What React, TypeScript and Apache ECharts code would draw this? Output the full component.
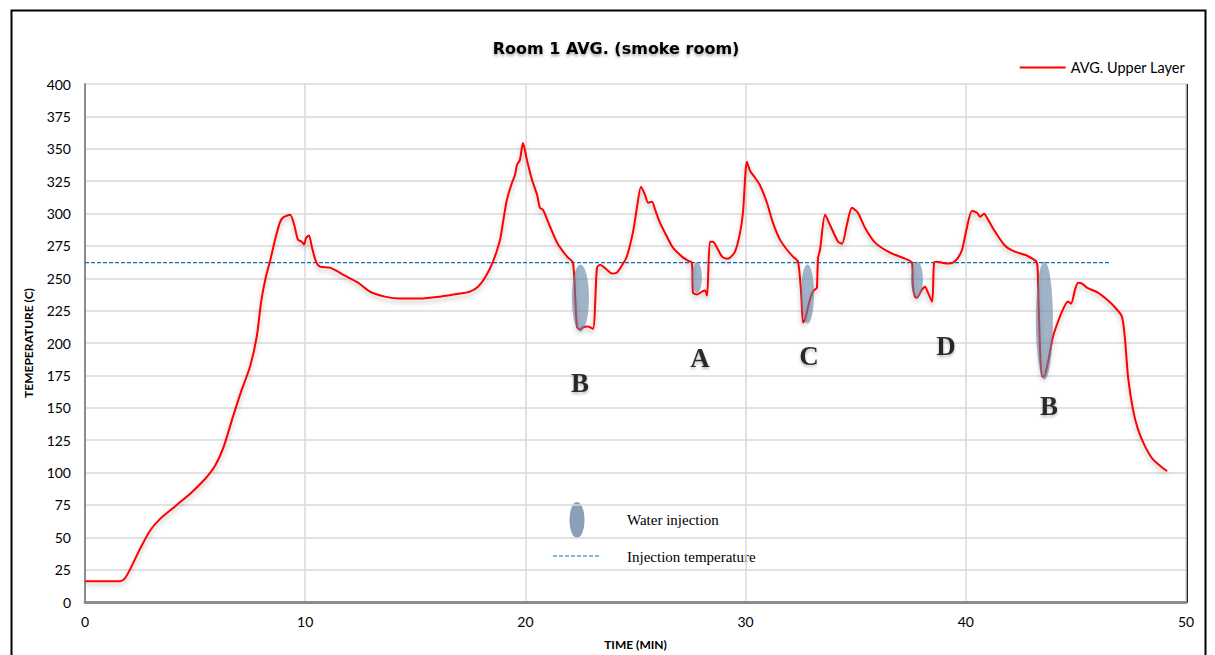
import React, { useEffect, useRef } from "react";
import * as echarts from "echarts";

// Time (min) and average upper-layer temperature (C)
const timeMin = [
  0, 1.6, 1.8, 2.04, 2.5, 2.95, 3.4, 4.1, 4.8, 5.45, 5.9, 6.3, 6.7, 7.1, 7.5, 7.8, 8.0, 8.2, 8.4, 8.65,
  8.85, 9.0, 9.31, 9.5, 9.67, 9.85, 9.95, 10.04, 10.17, 10.31, 10.49, 10.67, 11.13, 11.81, 12.4, 12.94, 13.62, 14.3,
  15.21, 16.12, 17.03, 17.48, 17.85, 18.17, 18.53, 18.85, 18.98, 19.16, 19.39, 19.53, 19.62, 19.75, 19.89, 20.07,
  20.3, 20.53, 20.66, 20.8, 21.12, 21.44, 21.89, 22.16, 22.34, 22.48, 22.6, 22.84, 23.07, 23.25, 23.39, 23.7, 23.93,
  24.16, 24.39, 24.61, 24.89, 25.07, 25.25, 25.43, 25.57, 25.75, 25.89, 26.11, 26.43, 26.7, 27.11, 27.38, 27.56,
  27.61, 27.79, 28.02, 28.16, 28.25, 28.38, 28.52, 28.7, 28.93, 29.16, 29.29, 29.52, 29.75, 29.88, 30.06, 30.2,
  30.43, 30.65, 30.97, 31.24, 31.56, 31.88, 32.15, 32.38, 32.52, 32.61, 32.7, 32.92, 33.06, 33.2, 33.24, 33.29,
  33.38, 33.61, 33.83, 34.2, 34.38, 34.6, 34.83, 35.1, 35.42, 35.88, 36.56, 37.24, 37.56, 37.6, 37.69, 37.78, 38.01,
  38.15, 38.28, 38.47, 38.56, 38.69, 38.92, 39.19, 39.42, 39.65, 39.83, 40.05, 40.28, 40.51, 40.65, 40.83, 41.01,
  41.33, 41.78, 42.23, 42.78, 43.23, 43.28, 43.37, 43.46, 43.55, 43.73, 43.96, 44.19, 44.41, 44.64, 44.78, 44.96,
  45.1, 45.28, 45.5, 46.0, 46.41, 46.78, 47.09, 47.23, 47.37, 47.59, 47.82, 48.14, 48.5, 49.14,
];
const tempC = [
  16, 16, 18, 25, 41, 55, 64, 74, 84, 95, 105, 120, 142, 163, 182, 205, 232, 250, 263, 281,
  293, 297, 299, 291.3, 279.8, 278.2, 276, 281.3, 283, 273.6, 262.8, 259, 258.2, 252, 246.6, 239.7, 235.8, 234.3,
  234.3, 235.8, 238.2, 239.7, 243.5, 250.5, 262.8, 279.8, 292.9, 310.6, 323.7, 329.9, 337.6, 341.4, 354.5, 341.4,
  326, 314.5, 304.4, 302.9, 289.8, 277.5, 266.7, 262, 212.7, 210.4, 212, 212.7, 211, 258, 260.5, 256.6, 253.6,
  254.5, 260, 267, 286, 305, 320.6, 314.5, 308.3, 309, 303, 292.9, 282, 273.6, 266.7, 263.6, 262,
  239, 237.4, 239.7, 240.5, 236.6, 278.2, 278.2, 273.6, 266.7, 265.1, 265.9, 270.5, 285.2, 300.6, 340, 333,
  327.6, 322, 308.3, 292.9, 279.8, 272, 266.7, 262.8, 238.9, 215.8, 218.1, 233.5, 239.7, 242, 242.8, 265.9,
  272, 299, 291.3, 278.2, 276.7, 291.3, 304.4, 300.6, 289, 277.5, 269.7, 265.1, 262, 243.5, 235.8, 235, 241.2,
  243.5, 238.9, 232, 262, 262.8, 262, 261.3, 262, 265.9, 272, 289, 302, 300.6, 297.5, 299.8, 295.2,
  286, 275.1, 270.5, 267.4, 262, 246.6, 195, 174.2, 174.2, 185, 205, 216.6, 225.8, 232, 230.4, 241.2,
  246.6, 245.9, 242.8, 238.9, 233.5, 227.4, 220.4, 202.7, 173.4, 148.7, 133.3, 120.2, 110.2, 101,
];

// Injection temperature reference line
const injectionTemp = 262;
const injectionLineTimes = [0, 46.6];

// Water injection markers (centre time, centre temperature)
const injectionTimes = [22.5, 27.79, 32.81, 37.78, 43.57];
const injectionTemps = [234.7, 250.5, 237.8, 249, 217.3];
const injectionSizesPx = [
  [17, 67],
  [10, 31],
  [13, 59],
  [12, 36],
  [17, 118],
];

// Event letters
const letterLabels = ["B", "A", "C", "D", "B"];
const letterTimes = [22.48, 27.93, 32.88, 39.1, 43.78];
const letterTemps = [168.8, 188.8, 189.6, 197.3, 151];

const ELLIPSE =
  "path://M50,0 C77.6,0 100,22.4 100,50 C100,77.6 77.6,100 50,100 C22.4,100 0,77.6 0,50 C0,22.4 22.4,0 50,0 Z";
const ELLIPSE_COLOR = "rgba(99,128,160,0.75)";
const SANS = "Lato, 'Open Sans', sans-serif";
const SERIF = "'Liberation Serif', 'DejaVu Serif', serif";

export default function App() {
  const ref = useRef<HTMLDivElement>(null);

  useEffect(() => {
    if (!ref.current) return;
    const chart = echarts.init(ref.current, undefined, { renderer: "svg" });

    const lineData = timeMin.map((t, i) => [t, tempC[i]]);
    const injLine = injectionLineTimes.map((t) => [t, injectionTemp]);
    const ellipses = injectionTimes.map((t, i) => ({
      value: [t, injectionTemps[i]],
      symbolSize: injectionSizesPx[i],
    }));
    const letters = letterTimes.map((t, i) => ({
      value: [t, letterTemps[i]],
      label: { formatter: letterLabels[i] },
    }));

    chart.setOption({
      animation: false,
      backgroundColor: "#ffffff",
      title: {
        text: "Room 1 AVG. (smoke room)",
        left: 611,
        textAlign: "center",
        top: 35,
        textStyle: {
          fontFamily: "'DejaVu Sans', sans-serif",
          fontSize: 16,
          fontWeight: "bold",
          color: "#000",
          textShadowColor: "rgba(0,0,0,0.35)",
          textShadowBlur: 3,
          textShadowOffsetY: 2,
        },
      },
      legend: {
        data: ["AVG. Upper Layer"],
        right: 25,
        top: 55,
        icon: "rect",
        itemWidth: 46,
        itemHeight: 2,
        itemGap: 8,
        textStyle: { fontFamily: SANS, fontSize: 14.5, color: "#000" },
      },
      grid: { left: 85, right: 29, top: 84, bottom: 52, containLabel: false },
      xAxis: {
        type: "value",
        min: 0,
        max: 50,
        interval: 10,
        name: "TIME (MIN)",
        nameLocation: "middle",
        nameGap: 36,
        nameTextStyle: { fontFamily: SANS, fontSize: 12, fontWeight: "bold", color: "#000" },
        axisLine: { show: true, onZero: false, lineStyle: { color: "#8c8c8c", width: 3 } },
        axisTick: { show: false },
        axisLabel: { fontFamily: SANS, fontSize: 14, color: "#000", margin: 12 },
        splitLine: { show: true, lineStyle: { color: "#d9d9d9", width: 1.5 } },
      },
      yAxis: {
        type: "value",
        min: 0,
        max: 400,
        interval: 25,
        name: "TEMEPERATURE (C)",
        nameLocation: "middle",
        nameGap: 51,
        nameTextStyle: { fontFamily: SANS, fontSize: 12, fontWeight: "bold", color: "#000" },
        axisLine: { show: true, lineStyle: { color: "#8c8c8c", width: 2 } },
        axisTick: { show: false },
        axisLabel: { fontFamily: SANS, fontSize: 14, color: "#000", margin: 14 },
        splitLine: { show: true, lineStyle: { color: "#d9d9d9", width: 1.5 } },
      },
      series: [
        {
          name: "Injection temperature",
          type: "line",
          data: injLine,
          symbol: "none",
          lineStyle: { color: "#0070c0", width: 1.2, type: [4, 2] },
          z: 2,
        },
        {
          name: "AVG. Upper Layer",
          type: "line",
          data: lineData,
          symbol: "none",
          smooth: 0.25,
          color: "#ff0000",
          lineStyle: {
            color: "#ff0000",
            width: 2,
            shadowColor: "rgba(0,0,0,0.28)",
            shadowBlur: 5,
            shadowOffsetY: 3,
          },
          z: 3,
        },
        {
          name: "Water injection",
          type: "scatter",
          data: ellipses,
          symbol: ELLIPSE,
          itemStyle: { color: ELLIPSE_COLOR },
          z: 4,
        },
        {
          name: "Events",
          type: "scatter",
          data: letters,
          symbolSize: 0,
          label: {
            show: true,
            position: "inside",
            fontFamily: SERIF,
            fontSize: 27,
            fontWeight: "bold",
            color: "#000",
            textShadowColor: "rgba(0,0,0,0.35)",
            textShadowBlur: 3,
            textShadowOffsetY: 2,
          },
          z: 5,
        },
      ],
      graphic: [
        {
          type: "rect",
          left: 9,
          top: 8,
          shape: { width: 1194, height: 700 },
          style: { fill: "none", stroke: "#000", lineWidth: 2 },
          silent: true,
        },
        {
          type: "line",
          shape: { x1: 1187, y1: 84, x2: 1187, y2: 603 },
          style: { stroke: "#222", lineWidth: 2 },
          silent: true,
        },
        {
          type: "ellipse",
          shape: { cx: 577, cy: 520, rx: 7.5, ry: 18 },
          style: { fill: ELLIPSE_COLOR },
        },
        {
          type: "text",
          x: 627,
          y: 520,
          style: { text: "Water injection", font: "15px " + SERIF, fill: "#000", verticalAlign: "middle" },
        },
        {
          type: "line",
          shape: { x1: 553, y1: 556, x2: 601, y2: 556 },
          style: { stroke: "#0070c0", lineWidth: 1.2, lineDash: [4, 2] },
        },
        {
          type: "text",
          x: 627,
          y: 557,
          style: { text: "Injection temperature", font: "15px " + SERIF, fill: "#000", verticalAlign: "middle" },
        },
      ],
    });

    return () => chart.dispose();
  }, []);

  return (
    <div
      ref={ref}
      style={{ position: "fixed", left: 0, top: 0, width: 1215, height: 655 }}
    />
  );
}
